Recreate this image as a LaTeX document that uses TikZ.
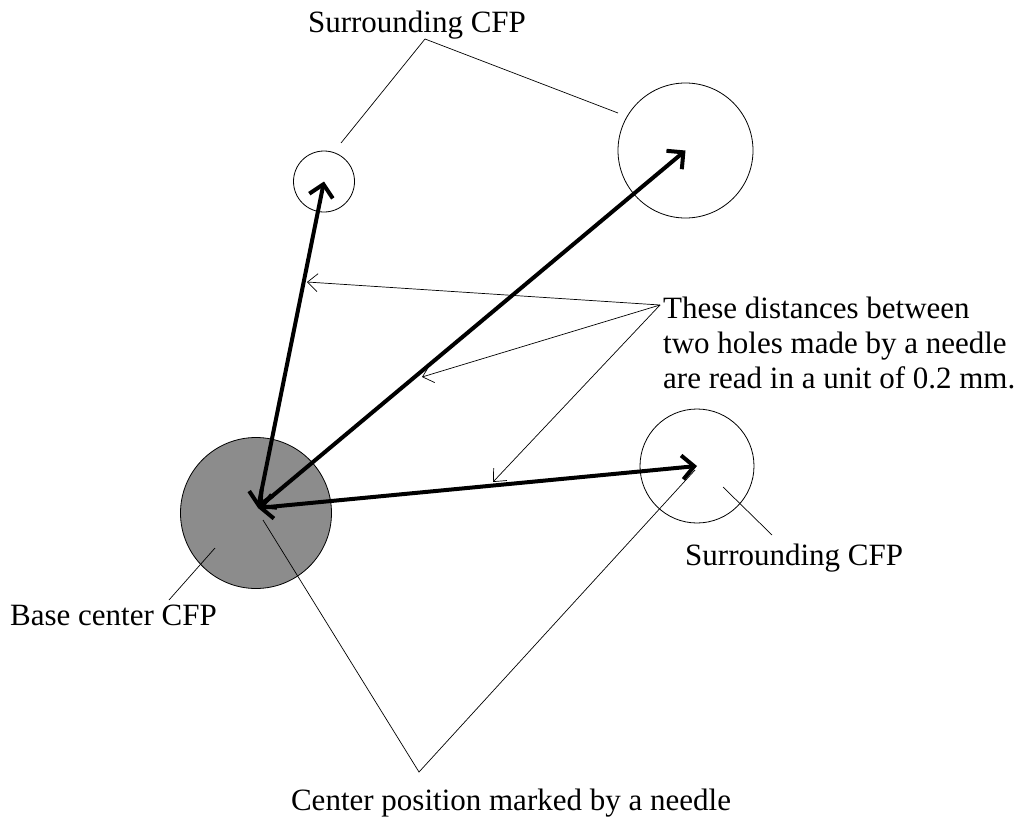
\documentclass[tikz,border=0pt]{standalone}
\usepackage{fontspec}
\setmainfont{Liberation Serif}
\usetikzlibrary{arrows.meta}
\begin{document}
\begin{tikzpicture}[x=1pt,y=-1pt,
  hole/.style={draw, circle, line width=0.8pt, inner sep=0pt},
  dist/.style={line width=4pt, {Straight Barb[length=12pt,width=24pt]}-{Straight Barb[length=12pt,width=24pt]}},
  thinarr/.style={line width=0.7pt, -{Straight Barb[length=10pt,width=18pt]}},
  leader/.style={line width=0.7pt},
  lbl/.style={font=\fontsize{31}{35}\selectfont, inner sep=0pt}
]
\useasboundingbox (0,0) rectangle (1032,816);
% holes
\node[hole, fill=black!45, minimum size=151pt] (base) at (256,513) {};
\node[hole, minimum size=61pt] (small) at (324,181.5) {};
\node[hole, minimum size=135pt] (big) at (685.5,150.5) {};
\node[hole, minimum size=114pt] (right) at (697,466) {};
\coordinate (bc) at (258,508);
% distance arrows
\draw[dist] (bc) -- (small.center);
\draw[dist] (bc) -- (big.center);
\draw[dist] (bc) -- (right.center);
% labels
\node[lbl, anchor=base] (ttop) at (417,33) {Surrounding CFP};
\node[lbl, anchor=base west] (tright) at (685,565) {Surrounding CFP};
\node[lbl, anchor=base west] (tbase) at (10,625) {Base center CFP};
\node[lbl, anchor=base] (tcenter) at (511,810) {Center position marked by a needle};
\node[lbl, anchor=west, align=left] (tdist) at (663,343) {These distances between\\two holes made by a needle\\are read in a unit of 0.2 mm.};
% leader coordinates
\coordinate (topapex) at (425,39);
\coordinate (l1) at (341,143);
\coordinate (l2) at (618,113);
\coordinate (rl1) at (772,535);
\coordinate (rl2) at (723,487);
\coordinate (bl1) at (169,600);
\coordinate (bl2) at (215,548);
\coordinate (capex) at (419,772);
\coordinate (cl1) at (263,520);
\coordinate (cl2) at (695,470);
\coordinate (dapex) at (660,305);
\coordinate (d1) at (307,282);
\coordinate (d2) at (422,377);
\coordinate (d3) at (493,482);
% leaders
\draw[leader] (l1) -- (topapex) -- (l2);
\draw[leader] (rl1) -- (rl2);
\draw[leader] (bl1) -- (bl2);
\draw[leader] (cl1) -- (capex) -- (cl2);
\draw[thinarr] (dapex) -- (d1);
\draw[thinarr] (dapex) -- (d2);
\draw[thinarr] (dapex) -- (d3);
\end{tikzpicture}
\end{document}
